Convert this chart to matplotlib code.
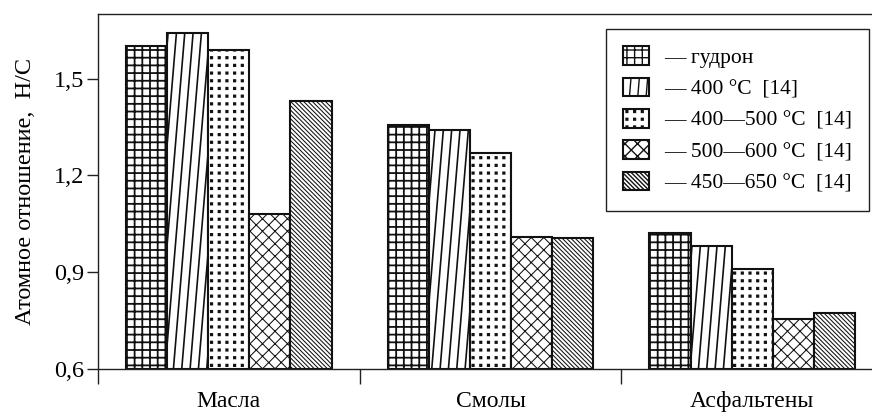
import warnings
warnings.filterwarnings('ignore')
import numpy as np
import matplotlib
matplotlib.use('Agg')
import matplotlib.pyplot as plt
from matplotlib import hatch as mhatch
from matplotlib.path import Path

# ---------------- data ----------------
categories = ['Масла', 'Смолы', 'Асфальтены']
series_labels = ['— гудрон', '— 400 °C  [14]', '— 400—500 °C  [14]',
                 '— 500—600 °C  [14]', '— 450—650 °C  [14]']
gudron = [1.60, 1.355, 1.02]
t400 = [1.64, 1.34, 0.98]
t400_500 = [1.59, 1.27, 0.91]
t500_600 = [1.08, 1.008, 0.755]
t450_650 = [1.43, 1.005, 0.775]
yticks = [0.6, 0.9, 1.2, 1.5]
ytick_labels = ['0,6', '0,9', '1,2', '1,5']
ylabel = 'Атомное отношение,  Н/С'

# ---------------- custom hatches ----------------
HATCH_N = {'G': 13, 'S': 12, 'D': 13, 'C': 8, 'B': 23}


class CustomHatch(mhatch.HatchPatternBase):
    def __init__(self, hatch, density):
        verts, codes = [], []

        def seg(p0, p1):
            verts.extend([p0, p1])
            codes.extend([Path.MOVETO, Path.LINETO])

        for ch in set(hatch):
            if ch not in HATCH_N:
                continue
            n = HATCH_N[ch]
            if ch == 'G':
                for k in range(n):
                    c = (k + 0.5) / n
                    seg((0.0, c), (1.0, c))
                    seg((c, 0.0), (c, 1.0))
            elif ch == 'S':
                for k in range(-1, n):
                    c = (k + 0.5) / n
                    seg((c, 0.0), (c + 1.0 / n, 1.0))
            elif ch == 'D':
                s = 0.009
                for i in range(n):
                    for j in range(n):
                        cx, cy = (i + 0.5) / n, (j + 0.5) / n
                        verts.extend([(cx - s, cy - s), (cx + s, cy - s),
                                      (cx + s, cy + s), (cx - s, cy + s),
                                      (cx - s, cy - s)])
                        codes.extend([Path.MOVETO, Path.LINETO, Path.LINETO,
                                      Path.LINETO, Path.CLOSEPOLY])
            elif ch == 'C':
                for k in range(-n - 1, n + 1):
                    c = (k + 0.5) / n
                    seg((c, 0.0), (c + 1.0, 1.0))
                for k in range(0, 2 * n + 1):
                    c = (k + 0.5) / n
                    seg((c, 0.0), (c - 1.0, 1.0))
            elif ch == 'B':
                for k in range(0, 2 * n + 1):
                    c = (k + 0.5) / n
                    seg((c, 0.0), (c - 1.0, 1.0))
        self._verts = np.array(verts, dtype=float).reshape(-1, 2)
        self._codes = np.array(codes, dtype=Path.code_type)
        self.num_vertices = len(self._verts)

    def set_vertices_and_codes(self, vertices, codes):
        vertices[:] = self._verts
        codes[:] = self._codes


mhatch._hatch_types.append(CustomHatch)

# ---------------- figure ----------------
plt.rcParams['font.family'] = ['Liberation Serif', 'DejaVu Serif']
plt.rcParams['hatch.color'] = 'black'

fig = plt.figure(figsize=(8.72, 4.12), dpi=100)
ax = fig.add_axes([98 / 872, 43 / 412, 785 / 872, 355 / 412])

series = [gudron, t400, t400_500, t500_600, t450_650]
hatches = ['G', 'S', 'D', 'C', 'B']
hatch_lws = [1.3, 1.2, 1.0, 0.75, 0.75]
x = np.arange(len(categories))
width = 0.157
base = yticks[0]

for i, (vals, lab, h, hlw) in enumerate(zip(series, series_labels, hatches, hatch_lws)):
    with plt.rc_context({'hatch.linewidth': hlw, 'hatch.color': 'black'}):
        bars = ax.bar(x + (i - 2) * width, np.array(vals) - base, width,
                      bottom=base, color='white', edgecolor='#111111',
                      linewidth=1.5, hatch=h, label=lab, zorder=2)
        for p in bars:
            if hasattr(p, 'set_hatch_linewidth'):
                p.set_hatch_linewidth(hlw)

ax.set_xlim(-0.5, 2.5)
ax.set_ylim(0.6, 1.7)
ax.set_yticks(yticks)
ax.set_yticklabels(ytick_labels)

# group separators as major ticks, category names as minor tick labels
ax.set_xticks([-0.5, 0.5, 1.5])
ax.set_xticklabels([])
ax.set_xticks(x, minor=True)
ax.set_xticklabels(categories, minor=True)
ax.tick_params(axis='x', which='major', direction='out', length=11, width=1.0, color='#222222')
ax.tick_params(axis='x', which='minor', length=0, pad=16, labelsize=17)
ax.tick_params(axis='y', direction='out', length=8, width=1.0, pad=2, labelsize=17.5, color='#222222')

for s in ['left', 'bottom', 'top']:
    ax.spines[s].set_linewidth(1.0)
    ax.spines[s].set_color('#222222')
ax.spines['right'].set_visible(False)

ax.set_ylabel(ylabel, fontsize=17.5, labelpad=13)

leg = ax.legend(loc='upper left', bbox_to_anchor=(606 / 872, 1 - 29 / 412),
                bbox_transform=fig.transFigure, frameon=True, fancybox=False,
                edgecolor='#222222', framealpha=1, borderaxespad=0,
                handlelength=1.2, handleheight=0.95, handletextpad=0.7,
                labelspacing=0.45, borderpad=0.8, prop={'size': 15.5})
leg.get_frame().set_linewidth(1.0)

fig.savefig('out.png', dpi=100)
